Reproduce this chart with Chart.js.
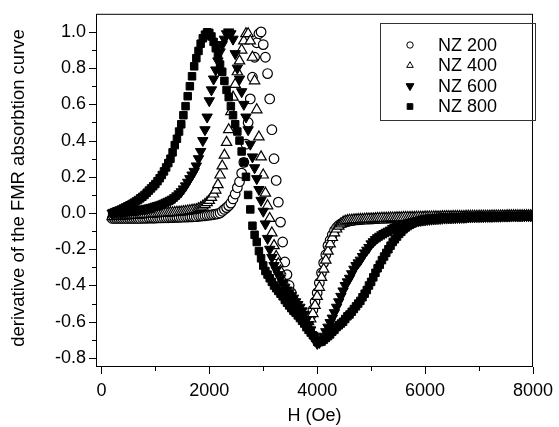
<!DOCTYPE html>
<html lang="en">
<head>
    <meta charset="UTF-8">
    <title>FMR absorption derivative - NZ samples</title>
    <script src="https://cdn.jsdelivr.net/npm/chart.js"></script>
    <style>
        html, body { margin: 0; padding: 0; background: #fff; }
        #wrap { width: 559px; height: 427px; }
    </style>
</head>
<body>
<div id="wrap"><canvas id="fmrChart" width="559" height="427"></canvas></div>
<script>
// magnetic field H (Oe), same grid for every sample
const fieldH = [
    200, 240, 280, 320, 360, 400, 440, 480, 520, 560,
    600, 640, 680, 720, 760, 800, 840, 880, 920, 960,
    1000, 1040, 1080, 1120, 1160, 1200, 1240, 1280, 1320, 1360,
    1400, 1440, 1480, 1520, 1560, 1600, 1640, 1680, 1720, 1760,
    1800, 1840, 1880, 1920, 1960, 2000, 2040, 2080, 2120, 2160,
    2200, 2240, 2280, 2320, 2360, 2400, 2440, 2480, 2520, 2560,
    2600, 2640, 2680, 2720, 2760, 2800, 2840, 2880, 2920, 2960,
    3000, 3040, 3080, 3120, 3160, 3200, 3240, 3280, 3320, 3360,
    3400, 3440, 3480, 3520, 3560, 3600, 3640, 3680, 3720, 3760,
    3800, 3840, 3880, 3920, 3960, 4000, 4040, 4080, 4120, 4160,
    4200, 4240, 4280, 4320, 4360, 4400, 4440, 4480, 4520, 4560,
    4600, 4640, 4680, 4720, 4760, 4800, 4840, 4880, 4920, 4960,
    5000, 5040, 5080, 5120, 5160, 5200, 5240, 5280, 5320, 5360,
    5400, 5440, 5480, 5520, 5560, 5600, 5640, 5680, 5720, 5760,
    5800, 5840, 5880, 5920, 5960, 6000, 6040, 6080, 6120, 6160,
    6200, 6240, 6280, 6320, 6360, 6400, 6440, 6480, 6520, 6560,
    6600, 6640, 6680, 6720, 6760, 6800, 6840, 6880, 6920, 6960,
    7000, 7040, 7080, 7120, 7160, 7200, 7240, 7280, 7320, 7360,
    7400, 7440, 7480, 7520, 7560, 7600, 7640, 7680, 7720, 7760,
    7800, 7840, 7880, 7920, 7960, 8000
];

// derivative of the FMR absorption curve
const nz200 = [
    -0.03, -0.03, -0.03, -0.03, -0.03, -0.03, -0.03, -0.03, -0.03, -0.03,
    -0.03, -0.03, -0.03, -0.03, -0.029, -0.029, -0.029, -0.028, -0.028, -0.028,
    -0.028, -0.027, -0.027, -0.027, -0.026, -0.026, -0.026, -0.025, -0.025, -0.024,
    -0.024, -0.024, -0.023, -0.023, -0.022, -0.022, -0.021, -0.021, -0.02, -0.02,
    -0.018, -0.017, -0.016, -0.015, -0.013, -0.012, -0.01, -0.008, -0.006, -0.004,
    0.0, 0.01, 0.02, 0.03, 0.041, 0.055, 0.078, 0.105, 0.14, 0.173,
    0.22, 0.28, 0.38, 0.5, 0.63, 0.75, 0.86, 0.94, 0.99, 1.0,
    0.93, 0.86, 0.77, 0.63, 0.46, 0.3, 0.18, 0.06, -0.05, -0.16,
    -0.27, -0.34, -0.4, -0.44, -0.48, -0.51, -0.535, -0.56, -0.575, -0.585,
    -0.59, -0.585, -0.565, -0.535, -0.49, -0.44, -0.385, -0.33, -0.275, -0.23,
    -0.18, -0.15, -0.12, -0.097, -0.08, -0.068, -0.06, -0.053, -0.05, -0.047,
    -0.044, -0.042, -0.04, -0.038, -0.037, -0.036, -0.035, -0.034, -0.034, -0.033,
    -0.033, -0.032, -0.031, -0.031, -0.03, -0.03, -0.029, -0.029, -0.028, -0.028,
    -0.028, -0.027, -0.027, -0.027, -0.026, -0.026, -0.026, -0.025, -0.025, -0.025,
    -0.024, -0.024, -0.024, -0.024, -0.023, -0.023, -0.023, -0.023, -0.022, -0.022,
    -0.022, -0.022, -0.021, -0.021, -0.021, -0.021, -0.021, -0.02, -0.02, -0.02,
    -0.02, -0.02, -0.02, -0.019, -0.019, -0.019, -0.019, -0.019, -0.018, -0.018,
    -0.018, -0.018, -0.018, -0.018, -0.017, -0.017, -0.017, -0.017, -0.017, -0.017,
    -0.016, -0.016, -0.016, -0.016, -0.016, -0.016, -0.016, -0.015, -0.015, -0.015,
    -0.015, -0.015, -0.015, -0.015, -0.015, -0.015
];
const nz400 = [
    -0.02, -0.019, -0.019, -0.018, -0.017, -0.016, -0.016, -0.015, -0.014, -0.013,
    -0.012, -0.011, -0.011, -0.01, -0.009, -0.008, -0.007, -0.007, -0.006, -0.005,
    -0.004, -0.003, -0.002, -0.002, -0.001, 0.0, 0.001, 0.002, 0.002, 0.003,
    0.004, 0.005, 0.006, 0.008, 0.009, 0.011, 0.013, 0.015, 0.017, 0.019,
    0.024, 0.03, 0.038, 0.047, 0.058, 0.07, 0.086, 0.105, 0.127, 0.157,
    0.21, 0.26, 0.32, 0.39, 0.46, 0.56, 0.64, 0.71, 0.78, 0.84,
    0.9, 0.95, 0.99, 0.99, 0.95, 0.86, 0.73, 0.57, 0.42, 0.31,
    0.21, 0.11, 0.04, -0.03, -0.11, -0.18, -0.24, -0.28, -0.32, -0.37,
    -0.41, -0.44, -0.47, -0.495, -0.515, -0.53, -0.545, -0.56, -0.575, -0.59,
    -0.6, -0.6, -0.585, -0.555, -0.51, -0.46, -0.41, -0.355, -0.31, -0.26,
    -0.21, -0.17, -0.135, -0.11, -0.088, -0.072, -0.06, -0.05, -0.045, -0.042,
    -0.04, -0.039, -0.038, -0.037, -0.036, -0.035, -0.035, -0.034, -0.033, -0.033,
    -0.032, -0.032, -0.031, -0.03, -0.03, -0.029, -0.029, -0.028, -0.028, -0.027,
    -0.027, -0.027, -0.026, -0.026, -0.026, -0.025, -0.025, -0.025, -0.024, -0.024,
    -0.024, -0.023, -0.023, -0.023, -0.023, -0.022, -0.022, -0.022, -0.022, -0.021,
    -0.021, -0.021, -0.021, -0.02, -0.02, -0.02, -0.02, -0.02, -0.019, -0.019,
    -0.019, -0.019, -0.019, -0.019, -0.018, -0.018, -0.018, -0.018, -0.018, -0.018,
    -0.017, -0.017, -0.017, -0.017, -0.017, -0.017, -0.016, -0.016, -0.016, -0.016,
    -0.016, -0.016, -0.016, -0.015, -0.015, -0.015, -0.015, -0.015, -0.015, -0.015,
    -0.015, -0.015, -0.015, -0.015, -0.015, -0.015
];
const nz600 = [
    0.0, 0.0, 0.001, 0.003, 0.004, 0.006, 0.007, 0.009, 0.01, 0.012,
    0.014, 0.015, 0.017, 0.018, 0.021, 0.023, 0.026, 0.028, 0.031, 0.034,
    0.038, 0.041, 0.045, 0.049, 0.054, 0.06, 0.065, 0.071, 0.077, 0.085,
    0.095, 0.106, 0.118, 0.133, 0.15, 0.17, 0.19, 0.21, 0.23, 0.26,
    0.3, 0.34, 0.4, 0.46, 0.53, 0.62, 0.68, 0.74, 0.79, 0.84,
    0.89, 0.93, 0.96, 0.99, 1.0, 0.99, 0.96, 0.88, 0.8, 0.74,
    0.67, 0.6, 0.53, 0.46, 0.38, 0.31, 0.25, 0.19, 0.13, 0.07,
    0.01, -0.06, -0.14, -0.2, -0.245, -0.29, -0.315, -0.34, -0.36, -0.385,
    -0.41, -0.425, -0.44, -0.455, -0.47, -0.49, -0.505, -0.52, -0.54, -0.56,
    -0.59, -0.615, -0.645, -0.675, -0.705, -0.72, -0.715, -0.7, -0.68, -0.655,
    -0.63, -0.605, -0.58, -0.55, -0.52, -0.49, -0.46, -0.43, -0.4, -0.38,
    -0.36, -0.335, -0.31, -0.29, -0.275, -0.26, -0.24, -0.22, -0.205, -0.19,
    -0.17, -0.158, -0.146, -0.136, -0.128, -0.12, -0.113, -0.106, -0.1, -0.094,
    -0.085, -0.08, -0.075, -0.07, -0.066, -0.061, -0.058, -0.055, -0.052, -0.05,
    -0.047, -0.045, -0.043, -0.041, -0.039, -0.038, -0.036, -0.035, -0.034, -0.033,
    -0.032, -0.031, -0.03, -0.029, -0.028, -0.028, -0.027, -0.027, -0.026, -0.026,
    -0.025, -0.025, -0.024, -0.024, -0.023, -0.022, -0.022, -0.021, -0.021, -0.02,
    -0.02, -0.02, -0.02, -0.019, -0.019, -0.019, -0.019, -0.018, -0.018, -0.018,
    -0.018, -0.017, -0.017, -0.017, -0.017, -0.016, -0.016, -0.016, -0.016, -0.016,
    -0.016, -0.015, -0.015, -0.015, -0.015, -0.015
];
const nz800 = [
    0.0, 0.005, 0.01, 0.014, 0.019, 0.025, 0.031, 0.037, 0.043, 0.05,
    0.057, 0.064, 0.072, 0.081, 0.09, 0.1, 0.112, 0.124, 0.136, 0.148,
    0.16, 0.176, 0.192, 0.21, 0.23, 0.252, 0.276, 0.3, 0.335, 0.375,
    0.41, 0.45, 0.49, 0.54, 0.59, 0.645, 0.7, 0.755, 0.81, 0.855,
    0.895, 0.935, 0.965, 0.985, 0.998, 0.995, 0.975, 0.945, 0.91, 0.87,
    0.82, 0.78, 0.73, 0.68, 0.64, 0.59, 0.54, 0.49, 0.45, 0.4,
    0.34, 0.28, 0.2, 0.1, 0.02, -0.07, -0.12, -0.16, -0.21, -0.25,
    -0.29, -0.32, -0.34, -0.36, -0.38, -0.4, -0.415, -0.43, -0.445, -0.46,
    -0.48, -0.495, -0.51, -0.525, -0.54, -0.55, -0.565, -0.58, -0.595, -0.61,
    -0.63, -0.645, -0.66, -0.675, -0.69, -0.71, -0.713, -0.71, -0.7, -0.69,
    -0.68, -0.67, -0.655, -0.645, -0.63, -0.62, -0.61, -0.6, -0.585, -0.57,
    -0.56, -0.545, -0.53, -0.515, -0.5, -0.485, -0.465, -0.445, -0.425, -0.4,
    -0.38, -0.355, -0.33, -0.305, -0.285, -0.26, -0.24, -0.22, -0.2, -0.18,
    -0.16, -0.145, -0.13, -0.115, -0.103, -0.09, -0.08, -0.072, -0.065, -0.058,
    -0.05, -0.046, -0.042, -0.039, -0.037, -0.034, -0.032, -0.031, -0.03, -0.029,
    -0.028, -0.027, -0.027, -0.026, -0.025, -0.025, -0.024, -0.024, -0.023, -0.023,
    -0.023, -0.022, -0.022, -0.021, -0.021, -0.021, -0.02, -0.02, -0.02, -0.02,
    -0.019, -0.019, -0.019, -0.019, -0.018, -0.018, -0.018, -0.018, -0.018, -0.017,
    -0.017, -0.017, -0.017, -0.017, -0.016, -0.016, -0.016, -0.016, -0.016, -0.016,
    -0.016, -0.015, -0.015, -0.015, -0.015, -0.015
];

const seriesLabels = ['NZ 200', 'NZ 400', 'NZ 600', 'NZ 800'];
const xMajorTicks = [0, 2000, 4000, 6000, 8000];
const xMinorTicks = [1000, 3000, 5000, 7000];
const yMajorTicks = [-0.8, -0.6, -0.4, -0.2, 0.0, 0.2, 0.4, 0.6, 0.8, 1.0];
const yMinorTicks = [-0.7, -0.5, -0.3, -0.1, 0.1, 0.3, 0.5, 0.7, 0.9];
const xTitle = 'H (Oe)';
const yTitle = 'derivative of the FMR absorbtion curve';

const FONT = '"Liberation Sans", Arial, Helvetica, sans-serif';

// marker look per sample: open circle, open triangle, filled down triangle, filled square
// (order: lower number is painted on top, so the filled series end up above the open ones)
const markers = [
    { style: 'circle',   radius: 4.8, rotation: 0,   fill: '#fff', border: 1.2, order: 3, legendRadius: 3.2 },
    { style: 'triangle', radius: 6.0, rotation: 0,   fill: '#fff', border: 1.2, order: 2, legendRadius: 3.8 },
    { style: 'triangle', radius: 6.0, rotation: 180, fill: '#000', border: 1,   order: 1, legendRadius: 4.6 },
    { style: 'rect',     radius: 5.3, rotation: 0,   fill: '#000', border: 1,   order: 0, legendRadius: 4.0 }
];

function toPoints(ys) {
    return fieldH.map((h, i) => ({ x: h, y: ys[i] }));
}

const allSeries = [nz200, nz400, nz600, nz800];
const datasets = allSeries.map((ys, i) => ({
    label: seriesLabels[i],
    data: toPoints(ys),
    order: markers[i].order,
    showLine: false,
    pointStyle: markers[i].style,
    pointRadius: markers[i].radius,
    pointRotation: markers[i].rotation,
    pointBackgroundColor: markers[i].fill,
    pointBorderColor: '#000',
    pointBorderWidth: markers[i].border
}));

// legend symbol drawn the same way as the chart markers
function drawMarker(ctx, m, x, y, r) {
    ctx.beginPath();
    if (m.style === 'circle') {
        ctx.arc(x, y, r, 0, Math.PI * 2);
    } else if (m.style === 'rect') {
        const s = r * Math.SQRT1_2;
        ctx.rect(x - s, y - s, 2 * s, 2 * s);
    } else {
        let rad = m.rotation * Math.PI / 180;
        for (let k = 0; k < 3; k++) {
            const px = x + Math.sin(rad) * r;
            const py = y - Math.cos(rad) * r;
            if (k === 0) ctx.moveTo(px, py); else ctx.lineTo(px, py);
            rad += 2 * Math.PI / 3;
        }
        ctx.closePath();
    }
    ctx.fillStyle = m.fill;
    ctx.fill();
    ctx.strokeStyle = '#000';
    ctx.lineWidth = 1;
    ctx.stroke();
}

const frameAndExtras = {
    id: 'frameAndExtras',
    afterDraw(chart) {
        const { ctx, chartArea: a, scales: { x, y } } = chart;
        ctx.save();

        // frame
        ctx.strokeStyle = '#000';
        ctx.lineWidth = 1;
        ctx.strokeRect(a.left + 0.5, a.top + 0.5, a.right - a.left - 1, a.bottom - a.top - 1);

        // outward ticks, major longer than minor
        ctx.beginPath();
        const tickX = (vals, len) => vals.forEach(v => {
            const px = Math.round(x.getPixelForValue(v)) + 0.5;
            ctx.moveTo(px, a.bottom);
            ctx.lineTo(px, a.bottom + len);
        });
        const tickY = (vals, len) => vals.forEach(v => {
            const py = Math.round(y.getPixelForValue(v)) + 0.5;
            ctx.moveTo(a.left, py);
            ctx.lineTo(a.left - len, py);
        });
        tickX(xMajorTicks, 7);
        tickX(xMinorTicks, 4);
        tickY(yMajorTicks, 7);
        tickY(yMinorTicks, 4);
        ctx.stroke();

        // axis titles
        ctx.fillStyle = '#000';
        ctx.textAlign = 'center';
        ctx.textBaseline = 'middle';
        ctx.font = '18px ' + FONT;
        ctx.fillText(xTitle, (a.left + a.right) / 2, 416);
        ctx.save();
        ctx.translate(19, 188);
        ctx.rotate(-Math.PI / 2);
        ctx.font = '18.5px ' + FONT;
        ctx.fillText(yTitle, 0, 0);
        ctx.restore();

        // legend box
        const box = { left: 380, top: 23, right: 535, bottom: 120 };
        ctx.strokeStyle = '#333';
        ctx.strokeRect(box.left + 0.5, box.top + 0.5, box.right - box.left, box.bottom - box.top);
        const rows = [45, 65.5, 86, 106.5];
        ctx.font = '18px ' + FONT;
        ctx.textAlign = 'left';
        seriesLabels.forEach((lab, i) => {
            drawMarker(ctx, markers[i], 410, rows[i], markers[i].legendRadius);
            ctx.fillStyle = '#000';
            ctx.fillText(lab, 438, rows[i] + 1);
        });

        ctx.restore();
    }
};

new Chart(document.getElementById('fmrChart'), {
    type: 'scatter',
    data: { datasets: datasets },
    options: {
        responsive: false,
        animation: false,
        devicePixelRatio: 1,
        layout: { padding: { top: 13, right: 22, bottom: 0, left: 0 } },
        plugins: {
            legend: { display: false },
            tooltip: { enabled: false }
        },
        scales: {
            x: {
                type: 'linear',
                min: -100,
                max: 8000,
                afterFit: s => { s.height = 60; },
                afterBuildTicks: s => { s.ticks = xMajorTicks.map(v => ({ value: v })); },
                grid: { display: false, drawTicks: true, tickLength: 7 },
                border: { display: false },
                ticks: {
                    padding: 6,
                    color: '#000',
                    font: { family: FONT, size: 18 },
                    maxRotation: 0,
                    callback: v => String(v)
                }
            },
            y: {
                type: 'linear',
                min: -0.85,
                max: 1.1,
                afterFit: s => { s.width = 96; },
                afterBuildTicks: s => { s.ticks = yMajorTicks.map(v => ({ value: v })); },
                grid: { display: false, drawTicks: true, tickLength: 7 },
                border: { display: false },
                ticks: {
                    padding: 3,
                    color: '#000',
                    font: { family: FONT, size: 18 },
                    callback: v => v.toFixed(1)
                }
            }
        }
    },
    plugins: [frameAndExtras]
});
</script>
</body>
</html>
